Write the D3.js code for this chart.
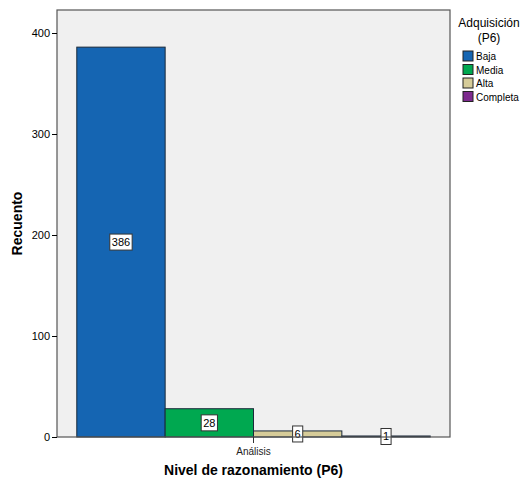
<!DOCTYPE html>
<html>
<head>
<meta charset="utf-8">
<script src="https://cdn.jsdelivr.net/npm/d3@7"></script>
<style>
  body { margin: 0; background: #fff; }
  text { font-family: Arial, "Liberation Sans", sans-serif; }
</style>
</head>
<body>
<div class="chart"></div>
<script>
// Data
var groups = ["Análisis"];
var series = ["Baja", "Media", "Alta", "Completa"];
var counts = [386, 28, 6, 1];
var colors = ["#1565b2", "#00a850", "#d6cc99", "#7d2a8e"];
var yTicks = [0, 100, 200, 300, 400];

var width = 526, height = 483;
var margin = { top: 10, left: 57, right: 76, bottom: 46 };
var plotW = width - margin.left - margin.right;
var plotH = height - margin.top - margin.bottom;

var svg = d3.select(".chart").append("svg")
    .attr("width", width)
    .attr("height", height);

var g = svg.append("g")
    .attr("transform", "translate(" + margin.left + "," + margin.top + ")");

// plot background
g.append("rect")
    .attr("width", plotW)
    .attr("height", plotH)
    .attr("fill", "#f0f0f0");

var yScale = d3.scaleLinear()
    .domain([0, 400])
    .range([plotH, plotH - 404]);

var xGroup = d3.scaleBand()
    .domain(groups)
    .range([0, plotW])
    .paddingInner(0)
    .paddingOuter(0.056);

var xSeries = d3.scaleBand()
    .domain(series)
    .range([0, xGroup.bandwidth()]);

var data = series.map(function(s, i) {
  return { group: groups[0], key: s, value: counts[i], color: colors[i] };
});

// bars
g.selectAll(".bar")
    .data(data)
  .enter().append("rect")
    .attr("class", "bar")
    .attr("x", function(d) { return xGroup(d.group) + xSeries(d.key); })
    .attr("y", function(d) { return yScale(d.value); })
    .attr("width", xSeries.bandwidth())
    .attr("height", function(d) { return Math.max(1, yScale(0) - yScale(d.value)); })
    .attr("fill", function(d) { return d.color; })
    .attr("stroke", "#1a2a3a")
    .attr("stroke-width", 1);

// value labels
var labels = g.selectAll(".lbl")
    .data(data)
  .enter().append("g")
    .attr("class", "lbl")
    .attr("transform", function(d) {
      var cx = xGroup(d.group) + xSeries(d.key) + xSeries.bandwidth() / 2;
      return "translate(" + cx + "," + yScale(d.value / 2) + ")";
    });
labels.append("text")
    .attr("text-anchor", "middle")
    .attr("dy", "0.35em")
    .attr("font-size", 11)
    .attr("fill", "#000")
    .text(function(d) { return d.value; })
    .each(function() {
      var b = this.getBBox();
      d3.select(this.parentNode).insert("rect", "text")
          .attr("x", b.x - 2)
          .attr("y", -8)
          .attr("width", b.width + 4)
          .attr("height", 16)
          .attr("fill", "#fff")
          .attr("stroke", "#333");
    });

// frame
g.append("rect")
    .attr("width", plotW)
    .attr("height", plotH)
    .attr("fill", "none")
    .attr("stroke", "#555")
    .attr("stroke-width", 1.2);

// Y axis
var yAxis = d3.axisLeft(yScale)
    .tickValues(yTicks)
    .tickSize(5)
    .tickSizeOuter(0);
var yAxisEl = g.append("g").call(yAxis);
yAxisEl.select(".domain").remove();
yAxisEl.selectAll("line").attr("stroke", "#000");
yAxisEl.selectAll("text").attr("font-size", 11).attr("fill", "#000").attr("dx", 1);

// X axis
var xAxis = d3.axisBottom(xGroup).tickSize(6).tickSizeOuter(0);
var xAxisEl = g.append("g")
    .attr("transform", "translate(0," + plotH + ")")
    .call(xAxis);
xAxisEl.select(".domain").remove();
xAxisEl.selectAll("line").attr("stroke", "#333");
xAxisEl.selectAll("text").attr("font-size", 10).attr("fill", "#222").attr("dy", "0.9em");

// axis titles
svg.append("text")
    .attr("transform", "translate(22," + (margin.top + plotH / 2) + ") rotate(-90)")
    .attr("text-anchor", "middle")
    .attr("font-size", 14)
    .attr("font-weight", "bold")
    .text("Recuento");

svg.append("text")
    .attr("x", margin.left + plotW / 2)
    .attr("y", 475)
    .attr("text-anchor", "middle")
    .attr("font-size", 14)
    .attr("font-weight", "bold")
    .text("Nivel de razonamiento (P6)");

// legend
var legend = svg.append("g").attr("transform", "translate(461,0)");
legend.append("text")
    .attr("x", 28).attr("y", 27)
    .attr("text-anchor", "middle")
    .attr("font-size", 12)
    .text("Adquisición");
legend.append("text")
    .attr("x", 28).attr("y", 42)
    .attr("text-anchor", "middle")
    .attr("font-size", 12)
    .text("(P6)");
var items = legend.selectAll(".item")
    .data(data)
  .enter().append("g")
    .attr("class", "item")
    .attr("transform", function(d, i) { return "translate(2," + (51 + i * 13.5) + ")"; });
items.append("rect")
    .attr("width", 10).attr("height", 10)
    .attr("fill", function(d) { return d.color; })
    .attr("stroke", "#222");
items.append("text")
    .attr("x", 13).attr("y", 9)
    .attr("font-size", 10)
    .text(function(d) { return d.key; });
</script>
</body>
</html>
